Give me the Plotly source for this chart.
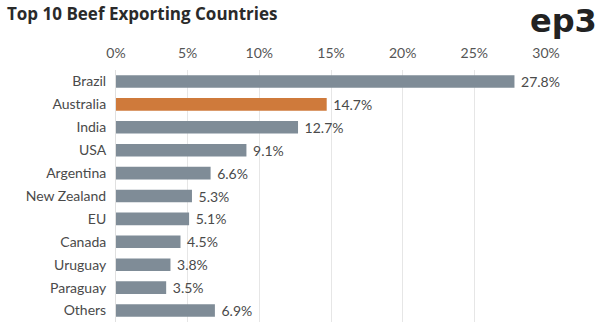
import plotly.graph_objects as go

countries = ["Brazil", "Australia", "India", "USA", "Argentina", "New Zealand",
             "EU", "Canada", "Uruguay", "Paraguay", "Others"]
shares = [27.8, 14.7, 12.7, 9.1, 6.6, 5.3, 5.1, 4.5, 3.8, 3.5, 6.9]
tick_vals = [0, 5, 10, 15, 20, 25, 30]
tick_text = ["0%", "5%", "10%", "15%", "20%", "25%", "30%"]

gray = "#7f8c97"
orange = "#cf7a3b"
colors = [orange if c == "Australia" else gray for c in countries]

fig = go.Figure(go.Bar(
    x=shares, y=countries, orientation="h",
    marker=dict(color=colors, line=dict(width=0)),
    text=[f" {v:.1f}%" for v in shares], textposition="outside",
    textfont=dict(size=14, color="#4a4a4a", family="Lato"),
    constraintext="none",
    cliponaxis=False,
))

fig.update_layout(
    width=600, height=333,
    margin=dict(l=116, r=54, t=70, b=11),
    paper_bgcolor="white", plot_bgcolor="white",
    bargap=0.45,
    showlegend=False,
    font=dict(family="Lato", color="#4a4a4a", size=13),
    xaxis=dict(side="top", range=[0, 30], tickvals=tick_vals, ticktext=tick_text,
               showgrid=True, gridcolor="#e6e6e6", gridwidth=1, zeroline=False,
               showline=False, ticks="", ticklabelstandoff=8,
               tickfont=dict(size=14, color="#555555")),
    yaxis=dict(autorange="reversed", showline=True, linecolor="#e0e0e0",
               ticks="", ticklabelstandoff=6,
               tickfont=dict(size=14, color="#4a4a4a")),
)
fig.add_annotation(text="<b>Top 10 Beef Exporting Countries</b>", xref="paper", yref="paper",
                   x=-116/430 + 5/430, y=1 + 70/252, xanchor="left", yanchor="top",
                   showarrow=False, font=dict(size=17, color="#2a2a2a", family="Open Sans"))
fig.add_annotation(text="<b>ep3</b>", xref="paper", yref="paper",
                   x=1 + 53/430, y=1 + 70/252, xanchor="right", yanchor="top",
                   showarrow=False, font=dict(size=32, color="#222222", family="DejaVu Sans"))

fig.write_html("out.html")
